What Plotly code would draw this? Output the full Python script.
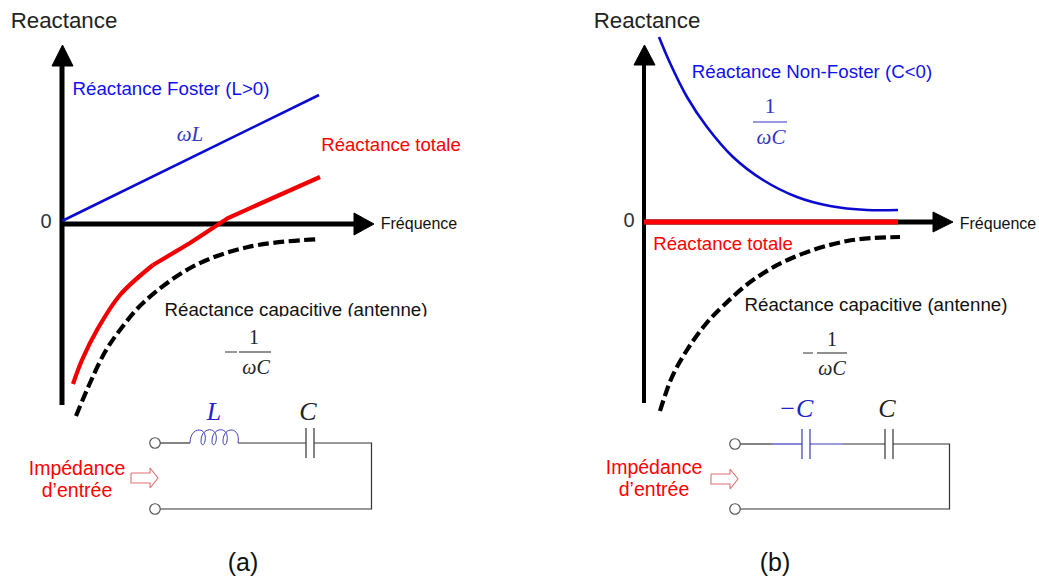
import plotly.graph_objects as go

# ---- curves (x, y in picture units) ----
a_yaxis_x = [62, 62]
a_yaxis_y = [405, 62]
a_xaxis_x = [62, 358]
a_xaxis_y = [224, 224]
a_foster_x = [62, 319]
a_foster_y = [221, 95]
a_total_low_x = [73, 82, 97, 120, 153]
a_total_low_y = [384, 360, 330, 295, 265]
a_total_high_x = [153, 190, 228, 320]
a_total_high_y = [265, 243, 218, 177]
a_cap_x = [76, 90, 105, 120, 143, 192, 248, 320]
a_cap_y = [416, 383, 352, 330, 303, 267, 247, 239]

b_yaxis_x = [644, 644]
b_yaxis_y = [403, 62]
b_xaxis_x = [644, 937]
b_xaxis_y = [222, 222]
b_total_x = [644, 898]
b_total_y = [222, 222]
b_foster_x = [659, 670, 687, 707, 733, 763, 797, 830, 867, 898]
b_foster_y = [37, 63, 97, 127, 157, 180, 197, 206, 210, 210]
b_cap_x = [660, 672, 687, 705, 723, 753, 792, 847, 900]
b_cap_y = [411, 377, 350, 325, 306, 280, 258, 241, 237]

# ---- text labels: text, x, y, colour, size, font ----
SANS = "Liberation Sans"
SERIF = "Liberation Serif"
RED = "#ff0000"
BLUE = "#1010f0"
MATHBLUE = "#3535c0"
labels = [
    ("Reactance", 64, 22, "#222222", 22.3, SANS),
    ("Réactance Foster (L>0)", 171, 90, BLUE, 18.7, SANS),
    ("Réactance totale", 391, 146, RED, 18.6, SANS),
    ("Réactance capacitive (antenne)", 296, 311, "#111111", 18.7, SANS),
    ("Fréquence", 419, 225, "#111111", 16, SANS),
    ("0", 46, 223, "#333333", 20, SANS),
    ("<i>ωL</i>", 190, 136, MATHBLUE, 21, SERIF),
    ("1", 254, 339, "#222222", 20, SERIF),
    ("<i>ωC</i>", 256, 369, "#222222", 20, SERIF),
    ("<i>L</i>", 214, 413, "#2222cc", 26, SERIF),
    ("<i>C</i>", 308, 413, "#222222", 26, SERIF),
    ("Impédance", 77, 470, RED, 19.5, SANS),
    ("d’entrée", 77, 492, RED, 19.5, SANS),
    ("(a)", 243, 565, "#111111", 25, SANS),
    ("Reactance", 647, 22, "#222222", 22.3, SANS),
    ("Réactance Non-Foster (C<0)", 812, 73, BLUE, 18.7, SANS),
    ("Réactance totale", 723, 245, RED, 18.6, SANS),
    ("Réactance capacitive (antenne)", 876, 306, "#111111", 18.7, SANS),
    ("Fréquence", 998, 225, "#111111", 16, SANS),
    ("0", 629, 222, "#333333", 20, SANS),
    ("1", 770, 107, MATHBLUE, 22, SERIF),
    ("<i>ωC</i>", 771, 139, MATHBLUE, 21, SERIF),
    ("1", 832, 341, "#222222", 20, SERIF),
    ("<i>ωC</i>", 832, 370, "#222222", 20, SERIF),
    ("<i>−C</i>", 796, 410, "#2222cc", 26, SERIF),
    ("<i>C</i>", 887, 410, "#222222", 26, SERIF),
    ("Impédance", 654, 469, RED, 19.5, SANS),
    ("d’entrée", 654, 491, RED, 19.5, SANS),
    ("(b)", 775, 565, "#111111", 25, SANS),
]

fig = go.Figure()


def line(x, y, color, width, dash=None, shape="linear", fill=None, fillcolor=None):
    fig.add_trace(go.Scatter(
        x=x, y=y, mode="lines", fill=fill, fillcolor=fillcolor,
        line=dict(color=color, width=width, dash=dash, shape=shape, smoothing=1.0),
        hoverinfo="skip", showlegend=False))


DASH = "11px,4.5px"
# axes with arrow heads
line(a_yaxis_x, a_yaxis_y, "#000000", 5)
line(a_xaxis_x, a_xaxis_y, "#000000", 5)
line([52, 73, 62.5, 52], [66, 66, 45, 66], "#000000", 1, fill="toself", fillcolor="#000000")
line([354, 374, 354, 354], [213, 224, 235, 213], "#000000", 1, fill="toself", fillcolor="#000000")
line(b_yaxis_x, b_yaxis_y, "#000000", 4)
line(b_xaxis_x, b_xaxis_y, "#000000", 5)
line([634, 655, 644.5, 634], [65, 65, 45, 65], "#000000", 1, fill="toself", fillcolor="#000000")
line([933, 953, 933, 933], [212, 222, 232, 212], "#000000", 1, fill="toself", fillcolor="#000000")

# reactance curves
line(a_foster_x, a_foster_y, "#0a0ad0", 2.6)
line(a_total_low_x, a_total_low_y, "#f00000", 4.2, shape="spline")
line(a_total_high_x, a_total_high_y, "#f00000", 4.2)
line(a_cap_x, a_cap_y, "#000000", 4.2, dash=DASH, shape="spline")
line(b_foster_x, b_foster_y, "#0a0ad0", 2.6, shape="spline")
line(b_total_x, b_total_y, "#ff0000", 5)
line(b_cap_x, b_cap_y, "#000000", 4.2, dash=DASH, shape="spline")

# circuits
WIRE = "#333333"
line([160, 190], [443, 443], WIRE, 1.2)
line([238, 306], [443, 443], WIRE, 1.2)
line([314, 371.5, 371.5, 160], [443, 443, 509, 509], WIRE, 1.2)
line([306, 306], [428, 458], WIRE, 1.2)
line([314, 314], [428, 458], WIRE, 1.2)

line([740, 772], [444, 444], WIRE, 1.2)
line([772, 802], [444, 444], "#3a3ab8", 1.2)
line([810, 843], [444, 444], "#3a3ab8", 1.2)
line([802, 802], [429, 459], "#3a3ab8", 1.2)
line([810, 810], [429, 459], "#3a3ab8", 1.2)
line([843, 885], [444, 444], WIRE, 1.2)
line([893, 949.5, 949.5, 740], [444, 444, 509, 509], WIRE, 1.2)
line([885, 885], [429, 459], WIRE, 1.2)
line([893, 893], [429, 459], WIRE, 1.2)

# input arrows
for ax, ay in [(131, 468), (711, 469)]:
    line([ax, ax + 19, ax + 19, ax + 27, ax + 19, ax + 19, ax, ax],
         [ay + 5, ay + 5, ay, ay + 10, ay + 20, ay + 15, ay + 15, ay + 5],
         "#e07070", 1.1)

# terminals
fig.add_trace(go.Scatter(
    x=[155, 155, 735, 735], y=[443, 509, 444, 509], mode="markers",
    marker=dict(symbol="circle", size=10.5, color="#ffffff", line=dict(color="#555555", width=1.2)),
    hoverinfo="skip", showlegend=False))

# fraction bars and minus signs
line([239, 271], [352, 352], "#333333", 1.1)
line([225, 237], [352, 352], "#444444", 1.1)
line([817, 847], [353, 353], "#333333", 1.1)
line([803, 813], [353, 353], "#444444", 1.1)
line([753, 787], [122, 122], "#3535c0", 1.1)

# labels as text marks
for txt, x, y, color, size, family in labels:
    fig.add_trace(go.Scatter(
        x=[x], y=[y], mode="text", text=[txt], textposition="middle center",
        textfont=dict(color=color, size=size, family=family),
        hoverinfo="skip", showlegend=False))

coil = ("M 190 443 C 190 426 208 426 205 441 C 204 446 201 446 201 441 "
        "C 201 426 219 426 216 441 C 215 446 212 446 212 441 "
        "C 212 426 230 426 227 441 C 226 446 223 446 223 441 "
        "C 223 426 241 426 238 443")

fig.update_layout(
    width=1039, height=580, margin=dict(l=0, r=0, t=0, b=0),
    paper_bgcolor="#ffffff", plot_bgcolor="#ffffff", showlegend=False,
    xaxis=dict(range=[0, 1039], visible=False, fixedrange=True),
    yaxis=dict(range=[580, 0], visible=False, fixedrange=True),
    shapes=[
        dict(type="path", path=coil, line=dict(color="#4040c0", width=1), layer="above"),
        # the white band that trims the descenders in the left panel
        dict(type="rect", x0=160, x1=432, y0=316.5, y1=326, line=dict(width=0),
             fillcolor="#ffffff", layer="above"),
    ],
)

fig.write_html("out.html", config={"displayModeBar": False},
               post_script="document.body.style.margin='0';document.body.style.overflow='hidden';")
